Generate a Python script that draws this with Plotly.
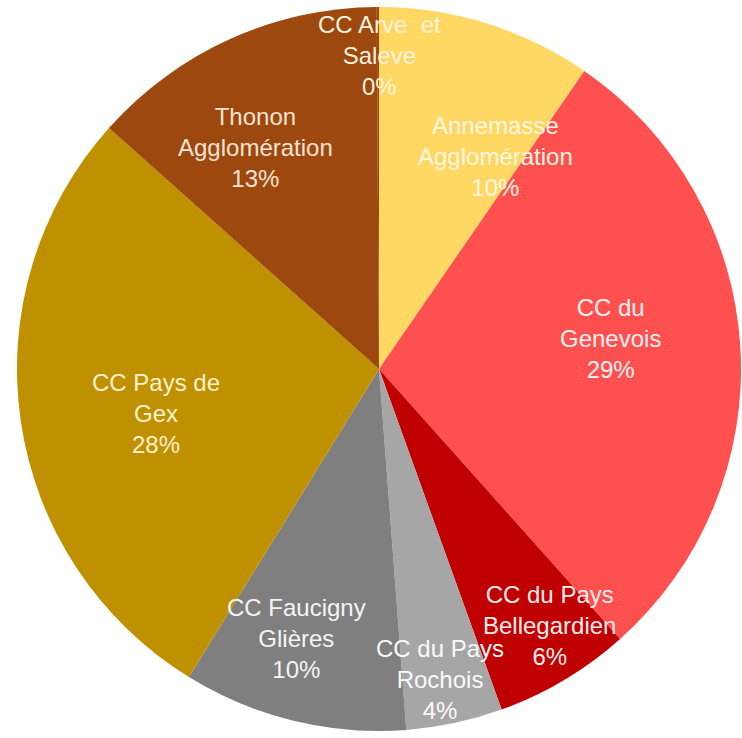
import math
import plotly.graph_objects as go

# Shares by intercommunal authority (percent), clockwise from 12 o'clock
categories = [
    "Annemasse Agglomération",
    "CC du Genevois",
    "CC du Pays Bellegardien",
    "CC du Pays Rochois",
    "CC Faucigny Glières",
    "CC Pays de Gex",
    "Thonon Agglomération",
    "CC Arve et Saleve",
]
label_lines = [
    "Annemasse<br>Agglomération",
    "CC du<br>Genevois",
    "CC du Pays<br>Bellegardien",
    "CC du Pays<br>Rochois",
    "CC Faucigny<br>Glières",
    "CC Pays de<br>Gex",
    "Thonon<br>Agglomération",
    "CC Arve  et<br>Saleve",
]
values = [9.6, 28.8, 6.1, 4.3, 10.0, 27.8, 13.3, 0.1]

# Styling
colors = ["#FFD864", "#FF5050", "#C00000", "#A6A6A6", "#7F7F7F", "#BF9000", "#9C480E", "#9C480E"]
text_colors = ["#FFF6E0", "#FFF0F0", "#FFECEC", "#FAFAFA", "#F4F4F4", "#FFF2CC", "#FBE4D2", "#FFF2DC"]
label_radius = [0.67, 0.645, 0.85, 0.873, 0.78, 0.628, 0.70, 0.867]   # fraction of pie radius
label_nudge_deg = [11.4, -3.8, -2.8, 1.0, 3.4, -3.1, -4.8, 0.2]

fig = go.Figure(
    go.Pie(
        labels=categories,
        values=values,
        sort=False,
        direction="clockwise",
        rotation=0,
        marker=dict(colors=colors, line=dict(width=0)),
        textinfo="none",
        hole=0,
        showlegend=False,
    )
)

# Data labels placed along each slice's bisector
total = sum(values)
cum = 0.0
annotations = []
for name, v, tc, rf, nudge in zip(label_lines, values, text_colors, label_radius, label_nudge_deg):
    mid = (cum + v / 2) / total * 360.0 + nudge
    cum += v
    theta = math.radians(mid)
    x = 0.5 + 0.5 * rf * math.sin(theta)
    y = 0.5 + 0.5 * rf * math.cos(theta)
    pct = round(v / total * 100)
    annotations.append(
        dict(
            x=x, y=y, xref="paper", yref="paper",
            text=f"{name}<br>{pct}%",
            showarrow=False,
            xanchor="center", yanchor="middle",
            font=dict(family="Liberation Sans, Arial, sans-serif", size=24, color=tc),
            align="center",
        )
    )

fig.update_layout(
    width=742,
    height=738,
    margin=dict(l=17, r=1, t=7, b=7),
    paper_bgcolor="white",
    plot_bgcolor="white",
    annotations=annotations,
)

fig.write_html("out.html")
